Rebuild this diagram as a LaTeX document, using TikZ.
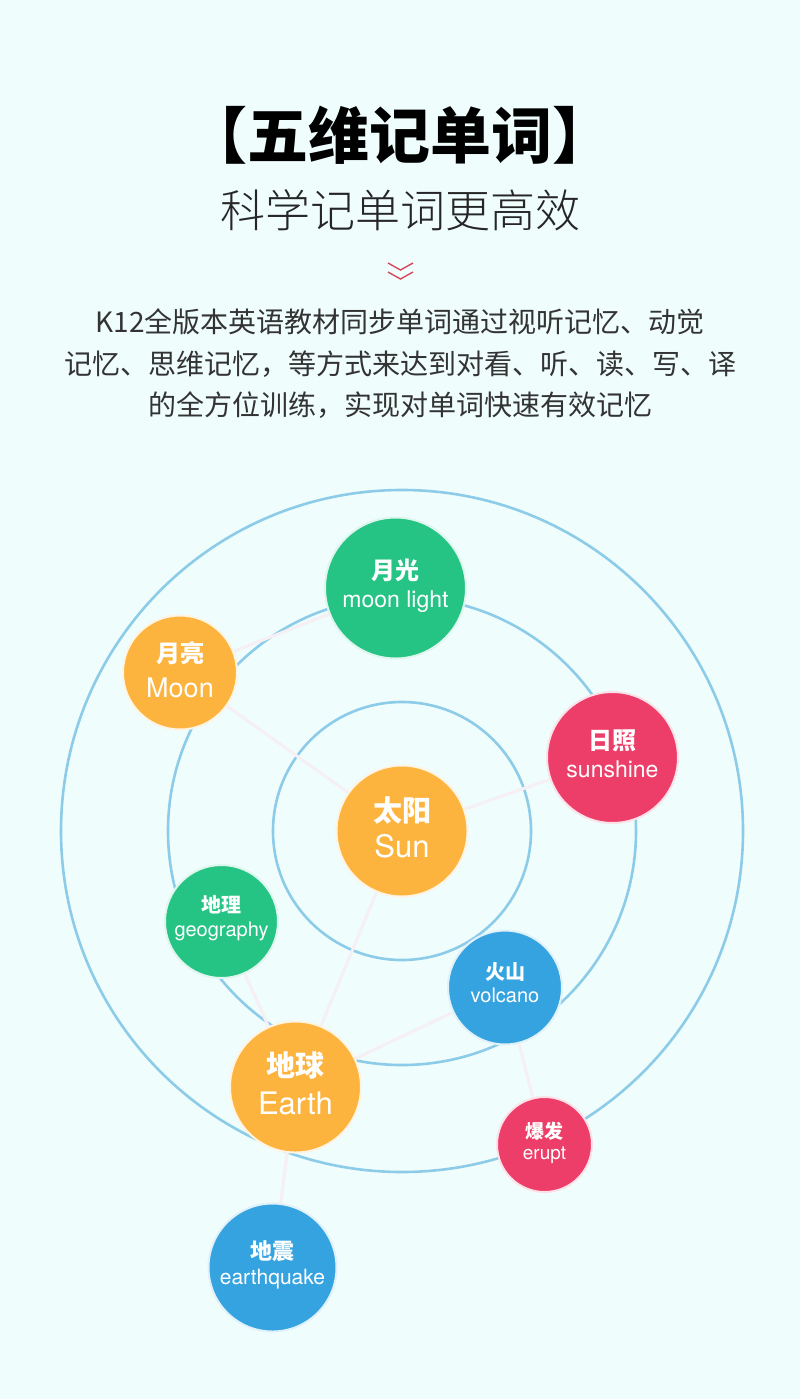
\documentclass[tikz,border=0pt]{standalone}
\usepackage{fontspec}
\setmainfont{TeX Gyre Heros}
\newfontfamily\cjk{Noto Sans CJK SC}
\IfFontExistsTF{Noto Sans CJK SC Black}
  {\newfontfamily\cjktitle{Noto Sans CJK SC Black}}
  {\newcommand\cjktitle{\cjk\bfseries}}
\IfFontExistsTF{Noto Sans CJK SC Light}
  {\newfontfamily\cjkthin{Noto Sans CJK SC Light}}
  {\newcommand\cjkthin{\cjk}}
\usetikzlibrary{backgrounds}

\definecolor{bgcyan}{RGB}{239,253,253}
\definecolor{ringblue}{RGB}{141,204,232}
\definecolor{linkwhite}{RGB}{246,239,244}
\definecolor{wordgreen}{RGB}{38,196,132}
\definecolor{wordorange}{RGB}{253,180,62}
\definecolor{wordred}{RGB}{236,62,104}
\definecolor{wordblue}{RGB}{53,163,224}
\definecolor{chevred}{RGB}{216,70,90}
\definecolor{introgray}{RGB}{51,51,51}

\begin{document}
\begin{tikzpicture}[x=1pt, y=-1pt,
  ring/.style={draw=ringblue, line width=2.6pt},
  link/.style={draw=linkwhite, line width=3pt},
  word/.style={circle, draw=white!85!#1, line width=2pt, fill=#1, inner sep=0pt},
  zh/.style={text=white, font=\cjk\bfseries\fontsize{#1}{#1}\selectfont, anchor=center, inner sep=0pt},
  en/.style={text=white, font=\fontsize{#1}{#1}\selectfont, anchor=base, inner sep=0pt},
  intro/.style={text=introgray, font=\cjk\fontsize{28}{28}\selectfont, inner sep=0pt}]
\path[use as bounding box] (0,0) rectangle (800,1399);

% heading
\node[font=\cjktitle\fontsize{61}{61}\selectfont, text=black, inner sep=0pt] (title) at (400,135) {【五维记单词】};
\node[font=\cjkthin\fontsize{45}{45}\selectfont, text=black!85, inner sep=0pt] (subtitle) at (400,210) {科学记单词更高效};
\foreach \dy in {0,9} {
  \draw[chevred, line width=1.4pt] (388,263+\dy) -- (400.5,270+\dy) -- (413,263+\dy);
}
\node[intro] (intro1) at (400,322) {K12全版本英语教材同步单词通过视听记忆、动觉};
\node[intro] (intro2) at (400,364) {记忆、思维记忆，等方式来达到对看、听、读、写、译};
\node[intro] (intro3) at (400,405) {的全方位训练，实现对单词快速有效记忆};

% word circles
\foreach \n/\x/\y/\r/\c in {sun/402/831/65.5/wordorange, moonlight/395.5/588/70.5/wordgreen,
    moon/180/672.5/57/wordorange, sunshine/612.5/757.5/65.5/wordred,
    geo/221.5/921.5/56.5/wordgreen, volcano/505/987.5/57/wordblue,
    earth/295.5/1087/65.5/wordorange, erupt/544.5/1144.5/47.5/wordred,
    quake/272.5/1267.5/64/wordblue} {
  \node[word=\c, minimum size=2*\r pt] (\n) at (\x,\y) {};
}
\foreach \n/\zh/\zs/\zy/\en/\es/\ey in {sun/太阳/29/20/Sun/31/-26, earth/地球/29/22/Earth/31/-27,
    moon/月亮/24/19/Moon/27/-24.5, moonlight/月光/24/17.5/moon light/23/-19,
    sunshine/日照/24/16.5/sunshine/23/-19.5, geo/地理/20/16.5/geography/20/-14.5,
    volcano/火山/20/15.5/volcano/20/-14.5, erupt/爆发/19/13.5/erupt/19/-14.5,
    quake/地震/22/16.5/earthquake/21/-16.5} {
  \node[zh=\zs] (\n-zh) at ([yshift=\zy pt]\n.center) {\zh};
  \node[en=\es] (\n-en) at ([yshift=\ey pt]\n.center) {\en};
}

\begin{pgfonlayer}{background}
\fill[bgcyan] (0,0) rectangle (800,1399);
\foreach \r in {129,234,341} {
  \draw[ring] (sun.center) circle (\r pt);
}
\draw[link] (moon) -- (moonlight);
\draw[link] (moon) -- (sun);
\draw[link] (sun) -- (sunshine);
\draw[link] (sun) -- (earth);
\draw[link] (geo) -- (earth);
\draw[link] (volcano) -- (earth);
\draw[link] (volcano) -- (erupt);
\draw[link] (earth) -- (quake);
\end{pgfonlayer}
\end{tikzpicture}
\end{document}
